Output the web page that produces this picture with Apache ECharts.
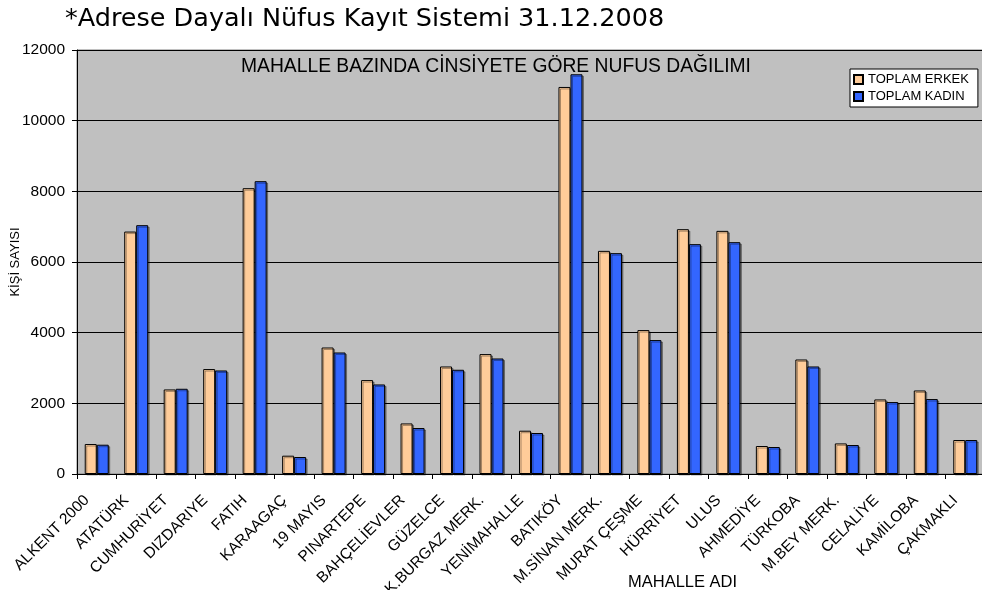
<!DOCTYPE html>
<html lang="tr">

<head>
    <meta charset="UTF-8">
    <title>Mahalle bazında nüfus</title>
    <script src="https://cdn.jsdelivr.net/npm/echarts@6.0.0/dist/echarts.min.js"></script>
</head>
<style>
    html,
    body {
        margin: 0;
        padding: 0;
        background: #fff;
    }
</style>

<body>
<div id="main" style="width:982px;height:590px;"></div>
</body>
<script type="text/javascript">

    // mahalle adları (x ekseni)
    var mahalleler = ['ALKENT 2000', 'ATATÜRK', 'CUMHURİYET', 'DIZDARIYE', 'FATIH', 'KARAAGAÇ', '19 MAYIS',
        'PINARTEPE', 'BAHÇELİEVLER', 'GÜZELCE', 'K.BURGAZ MERK.', 'YENİMAHALLE', 'BATIKÖY', 'M.SİNAN MERK.',
        'MURAT ÇEŞME', 'HÜRRİYET', 'ULUS', 'AHMEDİYE', 'TÜRKOBA', 'M.BEY MERK.', 'CELALİYE', 'KAMİLOBA', 'ÇAKMAKLI'];
    var toplamErkek = [848, 6861, 2393, 2970, 8089, 518, 3580, 2658, 1431, 3043, 3394, 1225, 10954, 6315,
        4073, 6929, 6881, 792, 3241, 865, 2110, 2364, 962];
    var toplamKadin = [829, 7042, 2412, 2930, 8287, 481, 3439, 2534, 1301, 2950, 3269, 1160, 11313, 6250,
        3790, 6505, 6561, 764, 3043, 820, 2036, 2121, 962];
    var yMin = 0, yMax = 12000, yStep = 2000;

    var myChart = echarts.init(document.getElementById('main'));

    var barStyle = function (renk) {
        return {
            color: renk,
            borderColor: '#000',
            borderWidth: 1,
            shadowColor: 'rgba(0,0,0,0.35)',
            shadowOffsetX: 1.5,
            shadowOffsetY: 1.5
        };
    };

    var option = {
        animation: false,
        backgroundColor: '#fff',
        title: [
            {
                text: '*Adrese Dayalı Nüfus Kayıt Sistemi 31.12.2008',
                left: 60,
                top: 1,
                textStyle: {fontFamily: 'DejaVu Sans', fontSize: 25.5, fontWeight: 'normal', color: '#000'}
            },
            {
                text: 'MAHALLE BAZINDA CİNSİYETE GÖRE NUFUS DAĞILIMI',
                left: 236,
                top: 52,
                textStyle: {fontFamily: 'Liberation Sans', fontSize: 19.3, fontWeight: 'normal', color: '#000'}
            }
        ],
        legend: {
            orient: 'vertical',
            left: 850,
            top: 69,
            padding: [4, 9, 4, 3],
            itemGap: 4,
            itemWidth: 9,
            itemHeight: 9,
            icon: 'rect',
            backgroundColor: '#fff',
            borderColor: '#000',
            borderWidth: 1,
            textStyle: {fontFamily: 'Liberation Sans', fontSize: 13, color: '#000'},
            data: ['TOPLAM ERKEK', 'TOPLAM KADIN']
        },
        grid: {
            left: 77,
            top: 50,
            width: 908,
            height: 424,
            outerBoundsMode: 'none',
            show: true,
            backgroundColor: '#C0C0C0',
            borderColor: '#808080',
            borderWidth: 1
        },
        graphic: [
            {
                type: 'text',
                left: 628,
                top: 574,
                style: {text: 'MAHALLE ADI', font: '16.5px "Liberation Sans"', fill: '#000'}
            }
        ],
        xAxis: {
            type: 'category',
            data: mahalleler,
            axisLine: {lineStyle: {color: '#000', width: 1}},
            axisTick: {show: true, length: 5, interval: 0, lineStyle: {color: '#000'}},
            axisLabel: {
                interval: 0,
                rotate: 45,
                margin: 14,
                padding: [0, 14, 0, 0],
                fontFamily: 'Liberation Sans',
                fontSize: 15.5,
                color: '#000'
            }
        },
        yAxis: {
            type: 'value',
            min: yMin,
            max: yMax,
            interval: yStep,
            name: 'KİŞİ SAYISI',
            nameLocation: 'middle',
            nameRotate: 90,
            nameGap: 55,
            nameMoveOverlap: false,
            nameTextStyle: {fontFamily: 'Liberation Sans', fontSize: 13, color: '#000'},
            axisLine: {show: true, lineStyle: {color: '#000', width: 1}},
            axisTick: {show: true, length: 5, lineStyle: {color: '#000'}},
            axisLabel: {
                margin: 12,
                fontFamily: 'Liberation Sans',
                fontSize: 15.5,
                color: '#000',
                formatter: function (v) {
                    return String(v);
                }
            },
            splitLine: {show: true, lineStyle: {color: '#000', width: 1}}
        },
        series: [
            {
                name: 'TOPLAM ERKEK',
                type: 'bar',
                barWidth: 12,
                barGap: '0%',
                itemStyle: barStyle('#FFCC99'),
                data: toplamErkek
            },
            {
                name: 'TOPLAM KADIN',
                type: 'bar',
                barWidth: 12,
                itemStyle: barStyle('#3366FF'),
                data: toplamKadin
            }
        ]
    };

    myChart.setOption(option);
</script>

</html>
